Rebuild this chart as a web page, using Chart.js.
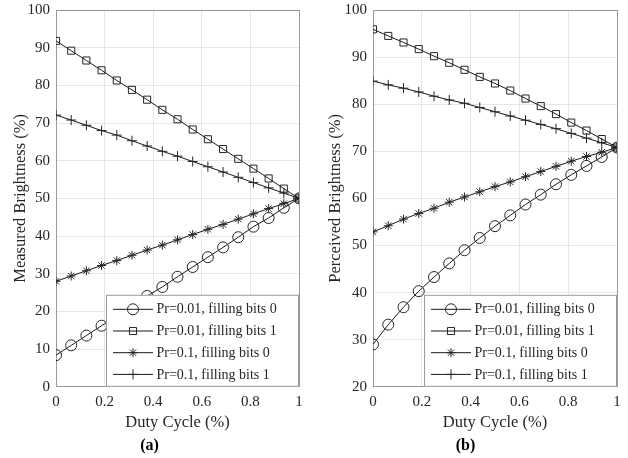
<!DOCTYPE html>
<html lang="en">
<head>
    <meta charset="UTF-8">
    <title>Brightness vs Duty Cycle</title>
    <script src="https://cdn.jsdelivr.net/npm/chart.js"></script>
    <style>
        body { margin: 0; background: #fff; }
        .panel { position: absolute; top: 0; width: 314px; height: 458px; }
    </style>
</head>
<body>
    <div class="panel" style="left:0"><canvas id="chartA"></canvas></div>
    <div class="panel" style="left:314px"><canvas id="chartB"></canvas></div>

    <script>
        // x values (duty cycle) shared by all series
        const dutyCycle = [0, 0.0625, 0.125, 0.1875, 0.25, 0.3125, 0.375, 0.4375, 0.5,
                           0.5625, 0.625, 0.6875, 0.75, 0.8125, 0.875, 0.9375, 1];
        const xTicks = [0, 0.2, 0.4, 0.6, 0.8, 1];
        const measuredTicks = [0, 10, 20, 30, 40, 50, 60, 70, 80, 90, 100];
        const perceivedTicks = [20, 30, 40, 50, 60, 70, 80, 90, 100];
        const seriesLabels = ['Pr=0.01, filling bits 0', 'Pr=0.01, filling bits 1',
                              'Pr=0.1, filling bits 0', 'Pr=0.1, filling bits 1'];

        // (a) measured brightness
        const measuredPr001Fill0 = [8.4, 11.0, 13.6, 16.2, 18.8, 21.4, 24.1, 26.5, 29.2, 31.8, 34.4, 37.0, 39.7, 42.5, 44.8, 47.5, 50.0];
        const measuredPr001Fill1 = [91.8, 89.2, 86.6, 84.0, 81.3, 78.8, 76.2, 73.5, 71.0, 68.3, 65.7, 63.1, 60.5, 57.9, 55.3, 52.6, 50.0];
        const measuredPr01Fill0 = [28.0, 29.4, 30.8, 32.2, 33.5, 34.9, 36.3, 37.6, 39.0, 40.4, 41.8, 43.1, 44.5, 45.9, 47.3, 48.6, 50.0];
        const measuredPr01Fill1 = [72.1, 70.8, 69.4, 68.0, 66.8, 65.3, 63.9, 62.5, 61.2, 59.8, 58.4, 57.0, 55.6, 54.2, 52.8, 51.4, 50.0];

        // (b) perceived brightness
        const perceivedPr001Fill0 = [29.0, 33.2, 36.9, 40.3, 43.3, 46.2, 49.0, 51.6, 54.1, 56.4, 58.7, 60.8, 63.0, 65.0, 66.9, 68.8, 70.8];
        const perceivedPr001Fill1 = [95.9, 94.5, 93.1, 91.7, 90.2, 88.8, 87.3, 85.8, 84.4, 82.9, 81.2, 79.6, 77.9, 76.1, 74.4, 72.6, 70.8];
        const perceivedPr01Fill0 = [52.9, 54.2, 55.6, 56.8, 57.9, 59.2, 60.3, 61.4, 62.5, 63.5, 64.6, 65.7, 66.8, 67.9, 68.9, 69.8, 70.8];
        const perceivedPr01Fill1 = [84.9, 84.1, 83.4, 82.6, 81.7, 80.9, 80.2, 79.3, 78.4, 77.5, 76.6, 75.7, 74.8, 73.8, 72.8, 71.8, 70.8];

        const markerStyles = ['circle', 'rect', 'star', 'cross'];
        const markerSizes = [5.5, 5, 4.5, 5];
        const FONT = "'Liberation Serif', 'Times New Roman', serif";
        const AXIS_GRAY = '#9a9a9a';
        const GRID_GRAY = '#e6e6e6';

        // legend box drawn inside the plot, bottom-right like the original figure
        const boxLegend = {
            id: 'boxLegend',
            afterDraw(chart) {
                const { ctx, chartArea } = chart;
                const w = 193, h = 92;
                const left = chartArea.right - w;
                const top = chartArea.bottom - h;
                ctx.save();
                ctx.fillStyle = '#fff';
                ctx.fillRect(left, top, w, h);
                ctx.strokeStyle = AXIS_GRAY;
                ctx.lineWidth = 1;
                ctx.strokeRect(left + 0.5, top + 0.5, w - 1, h - 1);
                chart.data.datasets.forEach((ds, i) => {
                    const y = top + 14.5 + i * 21.7;
                    ctx.strokeStyle = '#1a1a1a';
                    ctx.lineWidth = 1;
                    ctx.beginPath();
                    ctx.moveTo(left + 7, y);
                    ctx.lineTo(left + 47, y);
                    ctx.stroke();
                    ctx.strokeStyle = '#262626';
                    ctx.fillStyle = 'rgba(0,0,0,0)';
                    Chart.helpers.drawPoint(ctx, {
                        pointStyle: ds.pointStyle,
                        radius: ds.pointRadius,
                        rotation: 0,
                        borderWidth: 1
                    }, left + 27, y);
                    ctx.fillStyle = '#262626';
                    ctx.font = '14px ' + FONT;
                    ctx.textBaseline = 'middle';
                    ctx.textAlign = 'left';
                    ctx.fillText(seriesLabels[i], left + 50.5, y + 0.5);
                });
                ctx.restore();
            }
        };

        function makePanel(canvasId, seriesList, yTicks, yTitle, panelLabel, axisWidth, rightPad, yTitlePad) {
            const yMin = yTicks[0], yMax = yTicks[yTicks.length - 1];
            const datasets = seriesList.map((vals, i) => ({
                label: seriesLabels[i],
                data: dutyCycle.map((x, j) => ({ x: x, y: vals[j] })),
                borderColor: '#1a1a1a',
                borderWidth: 1,
                pointStyle: markerStyles[i],
                pointRadius: markerSizes[i],
                pointBorderColor: '#262626',
                pointBackgroundColor: 'rgba(0,0,0,0)',
                pointBorderWidth: 1,
                tension: 0
            }));

            return new Chart(document.getElementById(canvasId), {
                type: 'line',
                data: { datasets: datasets },
                options: {
                    responsive: true,
                    maintainAspectRatio: false,
                    animation: false,
                    layout: { padding: { left: 0, top: 10, right: rightPad, bottom: 3 } },
                    scales: {
                        x: {
                            type: 'linear',
                            min: 0,
                            max: 1,
                            afterBuildTicks: s => { s.ticks = xTicks.map(v => ({ value: v })); },
                            afterFit: s => { s.height = 46; },
                            ticks: {
                                padding: 6,
                                maxRotation: 0,
                                color: '#262626',
                                font: { family: FONT, size: 15 },
                                callback: v => String(v)
                            },
                            grid: {
                                drawTicks: false,
                                color: c => (c.tick && c.tick.value === 1) ? AXIS_GRAY : GRID_GRAY
                            },
                            border: { display: true, color: AXIS_GRAY },
                            title: {
                                display: true,
                                text: 'Duty Cycle (%)',
                                color: '#262626',
                                font: { family: FONT, size: 16.5 },
                                padding: { top: 0, bottom: 0 }
                            }
                        },
                        y: {
                            min: yMin,
                            max: yMax,
                            afterBuildTicks: s => { s.ticks = yTicks.map(v => ({ value: v })); },
                            afterFit: s => {
                                s.width = axisWidth;
                                s.paddingTop = 0;
                                s.paddingBottom = 0;
                            },
                            ticks: {
                                padding: 6,
                                color: '#262626',
                                font: { family: FONT, size: 15 }
                            },
                            grid: {
                                drawTicks: false,
                                color: c => (c.tick && c.tick.value === yMax) ? AXIS_GRAY : GRID_GRAY
                            },
                            border: { display: true, color: AXIS_GRAY },
                            title: {
                                display: true,
                                text: yTitle,
                                color: '#262626',
                                font: { family: FONT, size: 16.5 },
                                padding: { top: yTitlePad, bottom: 0 }
                            }
                        }
                    },
                    plugins: {
                        legend: { display: false },
                        tooltip: { enabled: false },
                        title: {
                            display: true,
                            position: 'bottom',
                            text: panelLabel,
                            color: '#000',
                            font: { family: FONT, size: 16, weight: 'bold' },
                            padding: { top: 3, bottom: 0 }
                        }
                    }
                },
                plugins: [boxLegend]
            });
        }

        makePanel('chartA',
            [measuredPr001Fill0, measuredPr001Fill1, measuredPr01Fill0, measuredPr01Fill1],
            measuredTicks, 'Measured Brightness (%)', '(a)', 56, 15, 11);

        makePanel('chartB',
            [perceivedPr001Fill0, perceivedPr001Fill1, perceivedPr01Fill0, perceivedPr01Fill1],
            perceivedTicks, 'Perceived Brightness (%)', '(b)', 59, 11, 12);
    </script>
</body>
</html>
